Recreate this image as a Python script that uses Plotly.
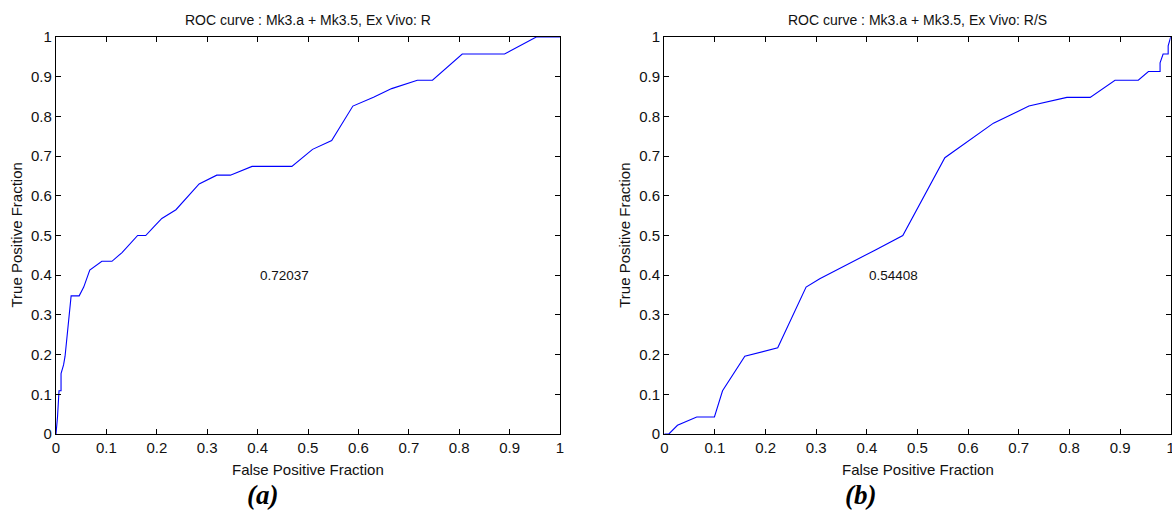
import plotly.graph_objects as go

# Panel (a): ROC curve, Ex Vivo: R
fpr_a = [0.0, 0.003, 0.006, 0.010, 0.010, 0.015, 0.018, 0.030, 0.046, 0.055, 0.067,
         0.091, 0.111, 0.131, 0.162, 0.178, 0.194, 0.210, 0.238, 0.284, 0.319, 0.346,
         0.389, 0.468, 0.509, 0.547, 0.589, 0.630, 0.666, 0.717, 0.747, 0.806, 0.890,
         0.953, 1.0]
tpr_a = [0.0, 0.043, 0.109, 0.109, 0.152, 0.174, 0.196, 0.348, 0.348, 0.370, 0.413,
         0.435, 0.435, 0.457, 0.500, 0.500, 0.522, 0.543, 0.565, 0.630, 0.652, 0.652,
         0.674, 0.674, 0.717, 0.739, 0.826, 0.848, 0.870, 0.891, 0.891, 0.957, 0.957,
         1.0, 1.0]
auc_a = "0.72037"
title_a = "ROC curve : Mk3.a + Mk3.5, Ex Vivo: R"

# Panel (b): ROC curve, Ex Vivo: R/S
fpr_b = [0.0, 0.009, 0.026, 0.064, 0.099, 0.115, 0.159, 0.224, 0.280, 0.307, 0.416,
         0.471, 0.554, 0.650, 0.720, 0.795, 0.841, 0.890, 0.936, 0.956, 0.979, 0.979,
         0.985, 0.995, 0.995, 1.0]
tpr_b = [0.0, 0.0, 0.022, 0.043, 0.043, 0.109, 0.196, 0.217, 0.370, 0.391, 0.463,
         0.500, 0.696, 0.783, 0.826, 0.848, 0.848, 0.891, 0.891, 0.913, 0.913, 0.935,
         0.957, 0.957, 0.978, 1.0]
auc_b = "0.54408"
title_b = "ROC curve : Mk3.a + Mk3.5, Ex Vivo: R/S"

panel_labels = ["(a)", "(b)"]
tick_vals = [0, 0.1, 0.2, 0.3, 0.4, 0.5, 0.6, 0.7, 0.8, 0.9, 1]
tick_text = ["0", "0.1", "0.2", "0.3", "0.4", "0.5", "0.6", "0.7", "0.8", "0.9", "1"]
x_label = "False Positive Fraction"
y_label = "True Positive Fraction"

W, H = 1172, 512
FONT = "Liberation Sans, Arial, sans-serif"
BLUE = "#0000ff"
TXT = "#111111"

dom_x = [[56 / W, 560 / W], [664.3 / W, 1170.7 / W]]
dom_y = [1 - 434 / H, 1 - 37 / H]

fig = go.Figure()
fig.add_trace(go.Scatter(x=fpr_a, y=tpr_a, mode="lines", line=dict(color=BLUE, width=1.1),
                         xaxis="x", yaxis="y", showlegend=False, hoverinfo="skip"))
fig.add_trace(go.Scatter(x=fpr_b, y=tpr_b, mode="lines", line=dict(color=BLUE, width=1.1),
                         xaxis="x2", yaxis="y2", showlegend=False, hoverinfo="skip"))

axis_common = dict(range=[0, 1], tickvals=tick_vals, ticktext=tick_text,
                   ticks="inside", ticklen=5, tickwidth=1, tickcolor="black",
                   showline=True, linecolor="black", linewidth=1.3, mirror="ticks",
                   showgrid=False, zeroline=False, automargin=False,
                   ticklabeloverflow="allow",
                   tickfont=dict(family=FONT, size=15, color=TXT), fixedrange=True)

layout = dict(width=W, height=H, margin=dict(l=0, r=0, t=0, b=0, autoexpand=False),
              paper_bgcolor="white", plot_bgcolor="white", showlegend=False)

for i, (xa, ya) in enumerate([("xaxis", "yaxis"), ("xaxis2", "yaxis2")]):
    n = "" if i == 0 else "2"
    layout[xa] = dict(axis_common, domain=dom_x[i], anchor="y" + n)
    layout[ya] = dict(axis_common, domain=dom_y, anchor="x" + n)

fig.update_layout(**layout)

annotations = []
for i, (ttl, auc, lab) in enumerate([(title_a, auc_a, panel_labels[0]), (title_b, auc_b, panel_labels[1])]):
    n = "" if i == 0 else "2"
    cx = (dom_x[i][0] + dom_x[i][1]) / 2
    annotations.append(dict(text=ttl, x=cx, y=1 - 20 / H, xref="paper", yref="paper",
                            xanchor="center", yanchor="middle", showarrow=False,
                            font=dict(family=FONT, size=14, color=TXT)))
    annotations.append(dict(text=x_label, x=cx, y=1 - 469 / H, xref="paper", yref="paper",
                            xanchor="center", yanchor="middle", showarrow=False,
                            font=dict(family=FONT, size=15, color=TXT)))
    annotations.append(dict(text=y_label, x=(dom_x[i][0] * W - 40) / W, y=(dom_y[0] + dom_y[1]) / 2,
                            xref="paper", yref="paper", textangle=-90,
                            xanchor="center", yanchor="middle", showarrow=False,
                            font=dict(family=FONT, size=15, color=TXT)))
    annotations.append(dict(text=auc, x=0.4, y=0.4, xref="x" + n, yref="y" + n,
                            xanchor="left", yanchor="middle", showarrow=False,
                            font=dict(family=FONT, size=13.5, color=TXT)))
    annotations.append(dict(text="<b><i>" + lab + "</i></b>", x=[262, 860][i] / W, y=1 - 495 / H,
                            xref="paper", yref="paper", xanchor="center", yanchor="middle",
                            showarrow=False,
                            font=dict(family="Liberation Serif, Times New Roman, serif", size=27, color="black")))
fig.update_layout(annotations=annotations)

fig.write_html("out.html")
